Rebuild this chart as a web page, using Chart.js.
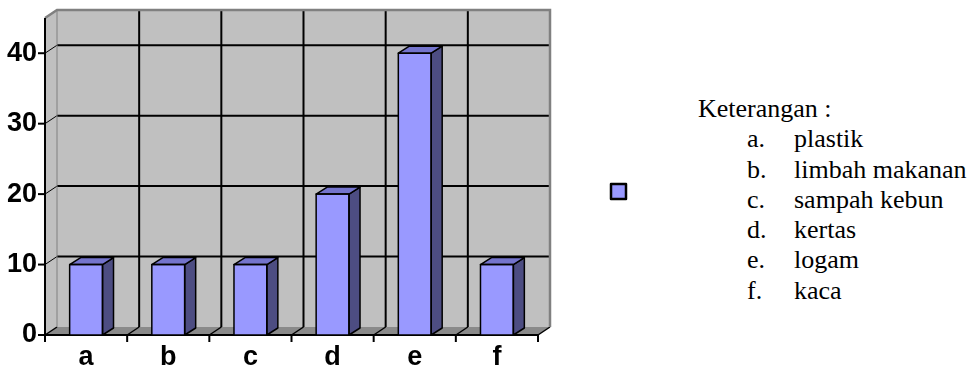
<!DOCTYPE html>
<html>
<head>
<meta charset="utf-8">
<script src="https://cdn.jsdelivr.net/npm/chart.js@4.4.0/dist/chart.umd.min.js"></script>
<style>
  html, body { margin: 0; padding: 0; background: #fff; }
  #wrap { position: relative; width: 976px; height: 374px; }
  #wrap canvas { position: absolute; left: 0; top: 0; }
  #note {
    position: absolute; left: 678px; top: 83px; width: 298px; height: 230px;
    background: #fff; color: #000;
    font-family: "Liberation Serif", "Times New Roman", Times, "DejaVu Serif", serif; font-size: 26px;
    line-height: 30.3px; padding-top: 11px; box-sizing: border-box;
  }
  #note div { white-space: nowrap; position: relative; height: 30.3px; }
  #note .lbl { position: absolute; left: 69px; }
  #note .txt { position: absolute; left: 116px; }
  #note .head { padding-left: 20px; }
</style>
</head>
<body>
<div id="wrap">
  <canvas id="chart" width="976" height="374"></canvas>
  <div id="note"></div>
</div>
<script>
const categories = ['a', 'b', 'c', 'd', 'e', 'f'];
const values = [10, 10, 10, 20, 40, 10];
const yTicks = [0, 10, 20, 30, 40];
const names = ['plastik', 'limbah makanan', 'sampah kebun', 'kertas', 'logam', 'kaca'];

// legend text block
const note = document.getElementById('note');
note.innerHTML = '<div class="head">Keterangan :</div>' +
  categories.map((c, i) => `<div><span class="lbl">${c}.</span><span class="txt">${names[i]}</span></div>`).join('');

const DX = 12, DY = -8;   // wall depth
const BDX = 11, BDY = -7; // bar depth
const tickFont = { family: "Arial, 'Liberation Sans', Helvetica, sans-serif", size: 27, weight: 'bold' };

function line(ctx, x1, y1, x2, y2) {
  ctx.beginPath();
  ctx.moveTo(x1, y1);
  ctx.lineTo(x2, y2);
  ctx.stroke();
}

function poly(ctx, pts) {
  ctx.beginPath();
  ctx.moveTo(pts[0][0], pts[0][1]);
  pts.slice(1).forEach(p => ctx.lineTo(p[0], p[1]));
  ctx.closePath();
}

const box3d = {
  id: 'box3d',
  beforeDatasetsDraw(chart) {
    const { ctx, chartArea: a, scales: { x, y } } = chart;
    const L = a.left, R = a.right, T = a.top, B = a.bottom;
    ctx.save();

    // walls and floor
    ctx.fillStyle = '#C0C0C0';
    ctx.fillRect(L + DX, T + DY, R - L, B - T);
    poly(ctx, [[L, B], [L, T], [L + DX, T + DY], [L + DX, B + DY]]);
    ctx.fill();
    ctx.fillStyle = '#8A8A8A';
    poly(ctx, [[L, B], [R, B], [R + DX, B + DY], [L + DX, B + DY]]);
    ctx.fill();

    // gridlines
    ctx.strokeStyle = '#000';
    ctx.lineWidth = 2;
    yTicks.forEach(v => {
      if (v === 0) return;
      const py = y.getPixelForValue(v);
      line(ctx, L + DX, py + DY, R + DX, py + DY);
      ctx.lineWidth = 1;
      line(ctx, L, py, L + DX, py + DY);
      ctx.lineWidth = 2;
    });
    for (let i = 1; i < categories.length; i++) {
      const px = (x.getPixelForValue(i - 1) + x.getPixelForValue(i)) / 2;
      line(ctx, px + DX, T + DY, px + DX, B + DY);
      ctx.lineWidth = 1.5;
      line(ctx, px, B, px + DX, B + DY);
      ctx.lineWidth = 2;
    }
    ctx.lineWidth = 1.5;
    line(ctx, R, B, R + DX, B + DY);
    line(ctx, L, B, L + DX, B + DY);

    // wall border
    ctx.strokeStyle = '#808080';
    ctx.lineWidth = 2.5;
    ctx.beginPath();
    ctx.moveTo(L, T);
    ctx.lineTo(L + DX, T + DY);
    ctx.lineTo(R + DX, T + DY);
    ctx.lineTo(R + DX, B + DY);
    ctx.stroke();
    ctx.lineWidth = 1;
    line(ctx, L + DX, T + DY, L + DX, B + DY);

    // axes
    ctx.strokeStyle = '#000';
    ctx.lineWidth = 2;
    line(ctx, L, T, L, B);
    line(ctx, L - 1, B, R, B);
    yTicks.forEach(v => {
      const py = y.getPixelForValue(v);
      line(ctx, L - 7, py, L, py);
    });
    for (let i = 0; i <= categories.length; i++) {
      let px;
      if (i === 0) px = L;
      else if (i === categories.length) px = R;
      else px = (x.getPixelForValue(i - 1) + x.getPixelForValue(i)) / 2;
      line(ctx, px, B, px, B + 7);
    }
    ctx.restore();
  },
  afterDatasetsDraw(chart) {
    const { ctx } = chart;
    const meta = chart.getDatasetMeta(0);
    ctx.save();
    ctx.strokeStyle = '#000';
    ctx.lineWidth = 1.5;
    ctx.lineJoin = 'round';
    meta.data.forEach(bar => {
      const { x, y, base, width } = bar.getProps(['x', 'y', 'base', 'width'], true);
      const l = x - width / 2, r = x + width / 2;
      ctx.fillStyle = '#4D4D82';
      poly(ctx, [[r, y], [r + BDX, y + BDY], [r + BDX, base + BDY], [r, base]]);
      ctx.fill();
      ctx.stroke();
      ctx.fillStyle = '#7474CC';
      poly(ctx, [[l, y], [l + BDX, y + BDY], [r + BDX, y + BDY], [r, y]]);
      ctx.fill();
      ctx.stroke();
      ctx.strokeRect(l, y, width, base - y);
    });

    // legend key
    ctx.fillStyle = chart.data.datasets[0].backgroundColor;
    ctx.fillRect(611, 184, 15, 15);
    ctx.lineWidth = 2.5;
    ctx.strokeRect(611, 184, 15, 15);
    ctx.restore();
  }
};

new Chart(document.getElementById('chart'), {
  type: 'bar',
  data: {
    labels: categories,
    datasets: [{
      label: '',
      data: values,
      backgroundColor: '#9999FF',
      borderWidth: 0,
      barPercentage: 0.8,
      categoryPercentage: 0.5
    }]
  },
  options: {
    responsive: false,
    animation: false,
    layout: { padding: { left: 0, top: 18, right: 438, bottom: 0 } },
    plugins: { legend: { display: false }, tooltip: { enabled: false } },
    scales: {
      x: {
        grid: { display: false, drawTicks: false },
        border: { display: false },
        ticks: { color: '#000', padding: 6, font: tickFont },
        afterFit: s => { s.height = 39; s.paddingLeft = 0; s.paddingRight = 0; }
      },
      y: {
        min: 0,
        max: 45,
        grid: { display: false, drawTicks: false },
        border: { display: false },
        ticks: { stepSize: 10, color: '#000', padding: 8, font: tickFont },
        afterBuildTicks: s => { s.ticks = yTicks.map(v => ({ value: v })); },
        afterFit: s => { s.width = 45; s.paddingTop = 0; s.paddingBottom = 0; }
      }
    }
  },
  plugins: [box3d]
});
</script>
</body>
</html>
